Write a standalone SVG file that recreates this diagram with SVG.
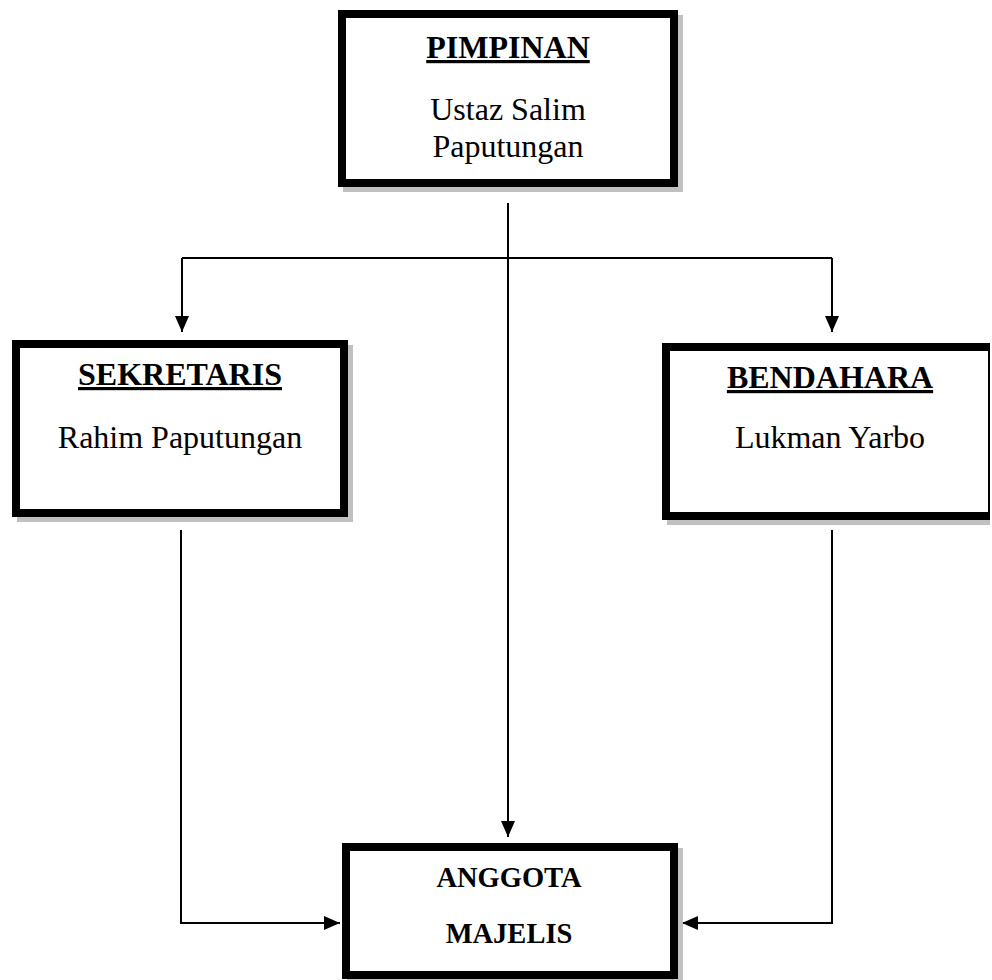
<svg xmlns="http://www.w3.org/2000/svg" width="992" height="980" viewBox="0 0 992 980">
  <style>
    .shadow { fill: #c0c0c0; }
    .frame { fill: #ffffff; stroke: #000000; stroke-width: 8; }
    .head { font-family: "Liberation Serif", "Times New Roman", serif; font-weight: bold; font-size: 32px; text-anchor: middle; text-decoration: underline; fill: #000; }
    .name { font-family: "Liberation Serif", "Times New Roman", serif; font-size: 32px; text-anchor: middle; fill: #000; }
    .bold { font-family: "Liberation Serif", "Times New Roman", serif; font-weight: bold; font-size: 28.5px; text-anchor: middle; fill: #000; }
    .conn { fill: none; stroke: #000000; stroke-width: 2; }
  </style>
  <defs>
    <marker id="arrow" markerUnits="userSpaceOnUse" markerWidth="16" markerHeight="14" refX="16" refY="7" orient="auto">
      <path d="M0,0 L16,7 L0,14 Z" fill="#000"/>
    </marker>
    <clipPath id="page"><rect x="0" y="0" width="990" height="980"/></clipPath>
  </defs>
  <rect x="0" y="0" width="992" height="980" fill="#ffffff"/>

  <g id="connectors">
    <path class="conn" d="M508,203 V837" marker-end="url(#arrow)"/>
    <path class="conn" d="M182,258 H832"/>
    <path class="conn" d="M182,258 V332" marker-end="url(#arrow)"/>
    <path class="conn" d="M832,258 V332" marker-end="url(#arrow)"/>
    <path class="conn" d="M181,530 V923 H340" marker-end="url(#arrow)"/>
    <path class="conn" d="M832,530 V923 H682" marker-end="url(#arrow)"/>
  </g>

  <g id="pimpinan">
    <rect class="shadow" x="343" y="15" width="340" height="177"/>
    <rect class="frame" x="342" y="14" width="332" height="169"/>
    <text class="head" x="508" y="58">PIMPINAN</text>
    <text class="name" x="508" y="120">Ustaz Salim</text>
    <text class="name" x="508" y="157">Paputungan</text>
  </g>

  <g id="sekretaris">
    <rect class="shadow" x="17" y="345" width="336" height="177"/>
    <rect class="frame" x="16" y="344" width="328" height="169"/>
    <text class="head" x="180" y="385">SEKRETARIS</text>
    <text class="name" x="180" y="448">Rahim Paputungan</text>
  </g>

  <g id="bendahara" clip-path="url(#page)">
    <rect class="shadow" x="667" y="348" width="334" height="177"/>
    <rect class="frame" x="666" y="347" width="326" height="169"/>
    <text class="head" x="830" y="388">BENDAHARA</text>
    <text class="name" x="830" y="448">Lukman Yarbo</text>
  </g>

  <g id="anggota">
    <rect class="shadow" x="347" y="848" width="336" height="135"/>
    <rect class="frame" x="346" y="847" width="328" height="128"/>
    <text class="bold" x="509" y="887">ANGGOTA</text>
    <text class="bold" x="509" y="943">MAJELIS</text>
  </g>
</svg>
